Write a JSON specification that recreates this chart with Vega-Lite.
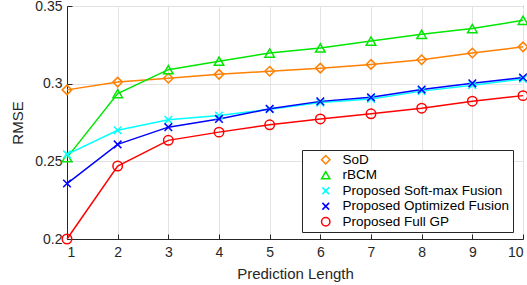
{
  "$schema": "https://vega.github.io/schema/vega-lite/v6.json",
  "autosize": "none",
  "width": 456,
  "height": 233,
  "padding": {"left": 67, "top": 6, "right": 4, "bottom": 46},
  "config": {
    "font": "Liberation Sans",
    "view": {"stroke": "#262626", "strokeWidth": 1},
    "axis": {
      "labelFont": "Liberation Sans", "titleFont": "Liberation Sans",
      "labelFontSize": 14, "titleFontSize": 15, "titleFontWeight": "normal",
      "labelColor": "#262626", "titleColor": "#262626",
      "domainColor": "#262626", "tickColor": "#262626",
      "tickSize": -5, "gridColor": "#e3e3e3", "gridWidth": 1
    }
  },
  "data": {"values": [
    {"x": 1, "rmse": 0.296, "method": "SoD"},
    {"x": 2, "rmse": 0.301, "method": "SoD"},
    {"x": 3, "rmse": 0.3035, "method": "SoD"},
    {"x": 4, "rmse": 0.306, "method": "SoD"},
    {"x": 5, "rmse": 0.308, "method": "SoD"},
    {"x": 6, "rmse": 0.310, "method": "SoD"},
    {"x": 7, "rmse": 0.3124, "method": "SoD"},
    {"x": 8, "rmse": 0.3154, "method": "SoD"},
    {"x": 9, "rmse": 0.3197, "method": "SoD"},
    {"x": 10, "rmse": 0.3237, "method": "SoD"},
    {"x": 1, "rmse": 0.2524, "method": "rBCM"},
    {"x": 2, "rmse": 0.2936, "method": "rBCM"},
    {"x": 3, "rmse": 0.309, "method": "rBCM"},
    {"x": 4, "rmse": 0.3145, "method": "rBCM"},
    {"x": 5, "rmse": 0.3197, "method": "rBCM"},
    {"x": 6, "rmse": 0.323, "method": "rBCM"},
    {"x": 7, "rmse": 0.3274, "method": "rBCM"},
    {"x": 8, "rmse": 0.3318, "method": "rBCM"},
    {"x": 9, "rmse": 0.3355, "method": "rBCM"},
    {"x": 10, "rmse": 0.3408, "method": "rBCM"},
    {"x": 1, "rmse": 0.2545, "method": "Proposed Soft-max Fusion"},
    {"x": 2, "rmse": 0.270, "method": "Proposed Soft-max Fusion"},
    {"x": 3, "rmse": 0.2767, "method": "Proposed Soft-max Fusion"},
    {"x": 4, "rmse": 0.2795, "method": "Proposed Soft-max Fusion"},
    {"x": 5, "rmse": 0.2835, "method": "Proposed Soft-max Fusion"},
    {"x": 6, "rmse": 0.2878, "method": "Proposed Soft-max Fusion"},
    {"x": 7, "rmse": 0.2902, "method": "Proposed Soft-max Fusion"},
    {"x": 8, "rmse": 0.2952, "method": "Proposed Soft-max Fusion"},
    {"x": 9, "rmse": 0.2990, "method": "Proposed Soft-max Fusion"},
    {"x": 10, "rmse": 0.3030, "method": "Proposed Soft-max Fusion"},
    {"x": 1, "rmse": 0.2357, "method": "Proposed Optimized Fusion"},
    {"x": 2, "rmse": 0.2609, "method": "Proposed Optimized Fusion"},
    {"x": 3, "rmse": 0.272, "method": "Proposed Optimized Fusion"},
    {"x": 4, "rmse": 0.2773, "method": "Proposed Optimized Fusion"},
    {"x": 5, "rmse": 0.2838, "method": "Proposed Optimized Fusion"},
    {"x": 6, "rmse": 0.2886, "method": "Proposed Optimized Fusion"},
    {"x": 7, "rmse": 0.2912, "method": "Proposed Optimized Fusion"},
    {"x": 8, "rmse": 0.2962, "method": "Proposed Optimized Fusion"},
    {"x": 9, "rmse": 0.3002, "method": "Proposed Optimized Fusion"},
    {"x": 10, "rmse": 0.304, "method": "Proposed Optimized Fusion"},
    {"x": 1, "rmse": 0.200, "method": "Proposed Full GP"},
    {"x": 2, "rmse": 0.247, "method": "Proposed Full GP"},
    {"x": 3, "rmse": 0.2635, "method": "Proposed Full GP"},
    {"x": 4, "rmse": 0.2688, "method": "Proposed Full GP"},
    {"x": 5, "rmse": 0.2735, "method": "Proposed Full GP"},
    {"x": 6, "rmse": 0.2773, "method": "Proposed Full GP"},
    {"x": 7, "rmse": 0.2806, "method": "Proposed Full GP"},
    {"x": 8, "rmse": 0.2842, "method": "Proposed Full GP"},
    {"x": 9, "rmse": 0.2887, "method": "Proposed Full GP"},
    {"x": 10, "rmse": 0.2923, "method": "Proposed Full GP"}
  ]},
  "encoding": {
    "x": {"field": "x", "type": "quantitative",
      "scale": {"domain": [1, 10], "nice": false, "zero": false},
      "axis": {"title": "Prediction Length", "values": [1,2,3,4,5,6,7,8,9,10], "labelPadding": 11, "titlePadding": 7}},
    "y": {"field": "rmse", "type": "quantitative",
      "scale": {"domain": [0.2, 0.35], "nice": false, "zero": false},
      "axis": {"title": "RMSE", "values": [0.2, 0.25, 0.3, 0.35], "format": ".2~f", "labelPadding": 10, "titlePadding": 9}},
    "color": {"field": "method", "type": "nominal",
      "scale": {
        "domain": ["SoD", "rBCM", "Proposed Soft-max Fusion", "Proposed Optimized Fusion", "Proposed Full GP"],
        "range": ["#ff8000", "#00e600", "#00ffff", "#0000ff", "#ff0000"]},
      "legend": {
        "title": null, "orient": "none", "legendX": 235, "legendY": 144,
        "labelFont": "Liberation Sans", "labelFontSize": 13.5, "labelColor": "#000000",
        "labelLimit": 400,
        "strokeColor": "#262626", "fillColor": "#ffffff", "padding": 3,
        "rowPadding": 0.5, "symbolSize": 70, "symbolStrokeWidth": 1.5, "labelOffset": 10,
        "symbolOffset": 14
      }
    }
  },
  "layer": [
    {"mark": {"type": "line", "strokeWidth": 1.5}},
    {"mark": {"type": "point", "filled": false, "strokeWidth": 1.5, "size": 90, "opacity": 1},
      "encoding": {
        "shape": {"field": "method", "type": "nominal",
          "scale": {
            "domain": ["SoD", "rBCM", "Proposed Soft-max Fusion", "Proposed Optimized Fusion", "Proposed Full GP"],
            "range": ["diamond", "triangle-up", "M-0.8,-0.8L0.8,0.8M-0.8,0.8L0.8,-0.8", "M-0.8,-0.8L0.8,0.8M-0.8,0.8L0.8,-0.8", "circle"]}
        }
      }
    }
  ]
}
